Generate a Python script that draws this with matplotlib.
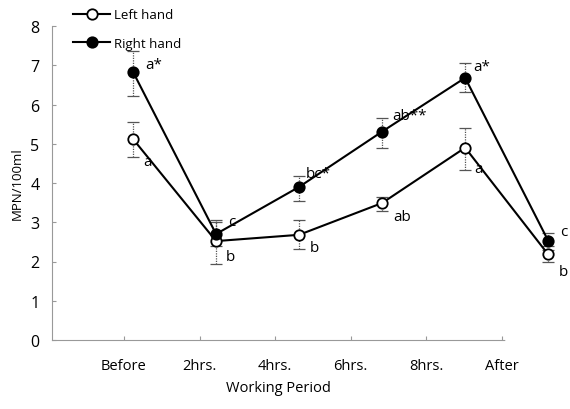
import matplotlib
matplotlib.use("Agg")
import matplotlib.pyplot as plt
import numpy as np

plt.rcParams['font.family'] = ['Open Sans', 'DejaVu Sans']

categories = ["Before", "2hrs.", "4hrs.", "6hrs.", "8hrs.", "After"]
left_mean = [5.12, 2.52, 2.68, 3.49, 4.90, 2.18]
left_lo = [4.67, 1.94, 2.32, 3.29, 4.34, 2.00]
left_hi = [5.56, 3.00, 3.06, 3.65, 5.41, 2.30]
right_mean = [6.83, 2.70, 3.90, 5.31, 6.68, 2.53]
right_lo = [6.22, 2.40, 3.55, 4.90, 6.33, 2.40]
right_hi = [7.37, 3.06, 4.18, 5.66, 7.07, 2.73]
left_labels = ["a", "b", "b", "ab", "a", "b"]
right_labels = ["a*", "c", "bc*", "ab**", "a*", "c"]

fig = plt.figure(figsize=(5.7, 4.1), dpi=100)
ax = fig.add_axes([52/570, (410-341)/410, (505-52)/570, (341-27)/410])

# category axis (labels)
ax.set_xlim(-0.952, 5.04)
ax.set_ylim(0, 8)
ax.set_xticks(range(len(categories)))
ax.set_xticklabels(categories, fontsize=10.5)
ax.set_yticks(range(0, 9))
ax.tick_params(axis='y', direction='in', length=3, color='#999999', labelsize=11.5, pad=9)
ax.tick_params(axis='x', direction='in', length=3, color='#999999', pad=13)
for s in ['top', 'right']:
    ax.spines[s].set_visible(False)
for s in ['left', 'bottom']:
    ax.spines[s].set_color('#999999')
    ax.spines[s].set_linestyle((0, (1, 1)))
    ax.spines[s].set_linewidth(0.8)
ax.set_xlabel("Working Period", fontsize=10.5, labelpad=5)
ax.set_ylabel("MPN/100ml", fontsize=9.5, labelpad=5)

# data axis (points)
ax2 = ax.twiny()
ax2.set_xlim(-0.976, 4.48)
ax2.set_ylim(0, 8)
ax2.axis('off')
x = np.arange(len(categories))

def draw(mean, lo, hi, face, label):
    mean = np.array(mean); lo = np.array(lo); hi = np.array(hi)
    eb = ax2.errorbar(x, mean, yerr=[mean - lo, hi - mean], fmt='none',
                      ecolor='#555555', elinewidth=0.9, capsize=4, capthick=0.9,
                      clip_on=False, zorder=2)
    for c in eb[2]:
        c.set_linestyle((0, (1, 1)))
        c.set_clip_on(False)
    for c in eb[1]:
        c.set_clip_on(False)
    ln, = ax2.plot(x, mean, '-o', color='black', lw=1.5, ms=7.5,
                   mfc=face, mec='black', mew=1.3, clip_on=False, zorder=3, label=label)
    return ln

l1 = draw(left_mean, left_lo, left_hi, 'white', 'Left hand')
l2 = draw(right_mean, right_lo, right_hi, 'black', 'Right hand')

left_off = [(10, -22), (10, -15), (11, -13), (11, -13), (9, -21), (11, -17)]
right_off = [(12, 7), (12, 13), (7, 13), (10, 16), (8, 11), (12, 9)]
for i in range(len(categories)):
    ax2.annotate(left_labels[i], (x[i], left_mean[i]), xytext=left_off[i],
                 textcoords='offset pixels', ha='left', va='center', fontsize=11,
                 annotation_clip=False)
    ax2.annotate(right_labels[i], (x[i], right_mean[i]), xytext=right_off[i],
                 textcoords='offset pixels', ha='left', va='center', fontsize=11,
                 annotation_clip=False)

fig.legend(handles=[l1, l2], loc='upper left', bbox_to_anchor=(68/570, 1 - 4/410),
           frameon=False, fontsize=9.5, handlelength=2.8, handletextpad=0.3,
           labelspacing=1.2, borderaxespad=0)

fig.savefig("out.png", dpi=100)
